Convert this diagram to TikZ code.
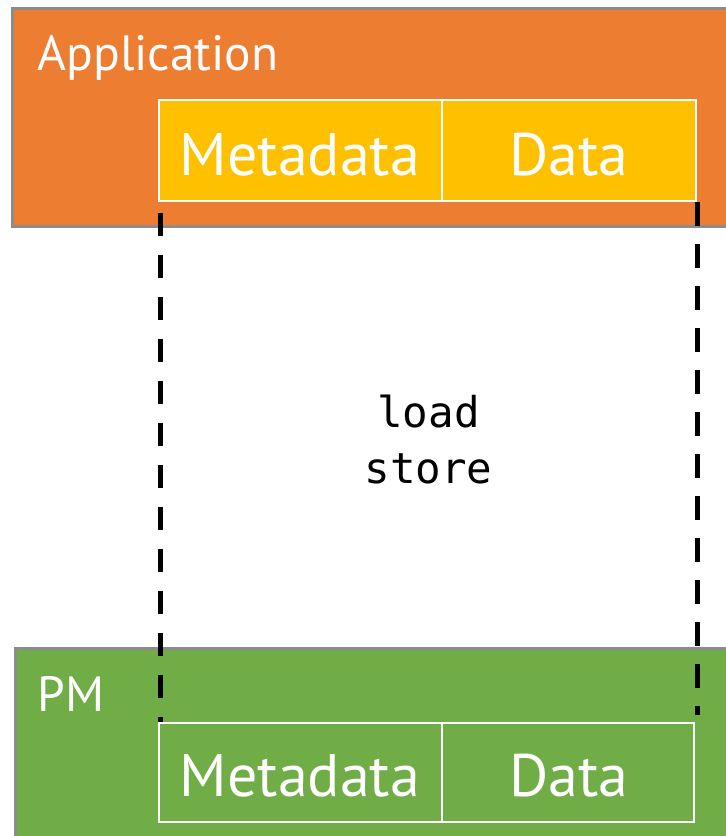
\documentclass[tikz,border=0pt]{standalone}
\usepackage{fontspec}
\newfontfamily\labelfont{PT Sans}
\newfontfamily\codefont{DejaVu Sans Mono}
\definecolor{apporange}{HTML}{ED7D31}
\definecolor{cellyellow}{HTML}{FFC000}
\definecolor{pmgreen}{HTML}{70AD47}
\definecolor{edgegray}{HTML}{8C8C8C}
\tikzset{
  layerbox/.style={draw=edgegray, line width=3pt, rectangle, anchor=north west, inner sep=0pt, outer sep=0pt},
  cellbox/.style={draw=white, line width=2.5pt, rectangle, anchor=north west, inner sep=0pt, outer sep=0pt, minimum height=101pt},
  celltext/.style={text=white, font=\labelfont\fontsize{60}{72}\selectfont, anchor=base},
  layertext/.style={text=white, font=\labelfont\fontsize{49.5}{60}\selectfont, anchor=base west},
  codetext/.style={text=black, font=\codefont\fontsize{42.5}{56}\selectfont, align=center, anchor=center},
  dashline/.style={draw=black, line width=5pt, dash pattern=on 23.5pt off 18.5pt, line cap=butt}
}
\begin{document}
\begin{tikzpicture}[x=1pt,y=-1pt]
\useasboundingbox (0,0) rectangle (726,836);
\clip (0,0) rectangle (726,836);
\fill[white] (0,0) rectangle (726,836);
% Application layer
\node[layerbox, fill=apporange, minimum width=728pt, minimum height=218pt] (app) at (12,8) {};
\node[layertext] (apptxt) at (34,70) {Application};
\node[cellbox, fill=cellyellow, minimum width=283pt] (appmeta) at (159,100) {};
\node[cellbox, fill=cellyellow, minimum width=254pt] (appdata) at (442,100) {};
\node[celltext] (appmetatxt) at (300,175) {Metadata};
\node[celltext] (appdatatxt) at (569,175) {Data};
% PM layer
\node[layerbox, fill=pmgreen, minimum width=725pt, minimum height=200pt] (pm) at (15,648) {};
\node[layertext] (pmtxt) at (34,711) {PM};
\node[cellbox, fill=pmgreen, minimum width=283pt, minimum height=99pt] (pmmeta) at (159,723) {};
\node[cellbox, fill=pmgreen, minimum width=252pt, minimum height=99pt] (pmdata) at (442,723) {};
\node[celltext] (pmmetatxt) at (300,796) {Metadata};
\node[celltext] (pmdatatxt) at (569,796) {Data};
% load / store
\node[codetext] (ops) at (428.5,440) {load\\store};
% dashed connectors
\coordinate (ltop) at (160,212.7);
\coordinate (lbot) at (160,722);
\coordinate (rtop) at (697,202);
\coordinate (rbot) at (697,715);
\draw[dashline] (ltop) -- (lbot);
\draw[dashline] (rtop) -- (rbot);
\end{tikzpicture}
\end{document}
